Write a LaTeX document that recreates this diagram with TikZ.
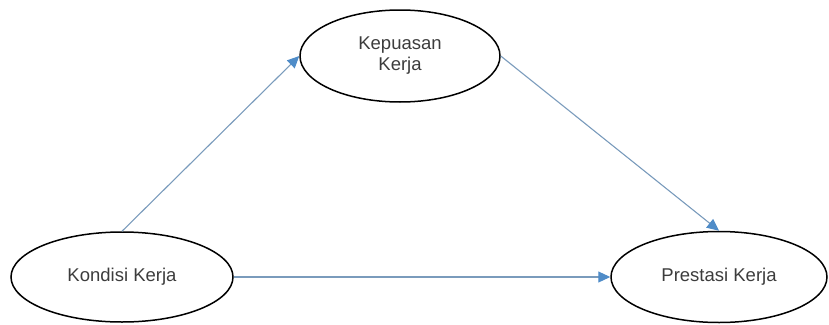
\documentclass[tikz,border=0pt]{standalone}
\usepackage{fontspec}
\setmainfont{Liberation Sans}
\usetikzlibrary{shapes.geometric,arrows.meta}
\definecolor{linec}{RGB}{122,155,188}
\definecolor{tipc}{RGB}{79,140,200}
\definecolor{txtc}{RGB}{60,60,60}
\tikzset{
  varbox/.style={ellipse, draw=black, line width=1.5pt, inner sep=0pt, text=txtc,
    font=\fontsize{18.5}{21}\selectfont, align=center},
  link/.style={draw=linec, line width=1.1pt, -{Triangle[length=12pt,width=11pt,fill=tipc,color=tipc]}}
}
\begin{document}
\begin{tikzpicture}[x=1pt,y=-1pt]
\useasboundingbox (0,0) rectangle (829,324);
\node[varbox, minimum width=200pt, minimum height=92pt] (T) at (400,56) {Kepuasan\\Kerja};
\node[varbox, minimum width=222pt, minimum height=90pt] (L) at (122,277) {Kondisi Kerja};
\node[varbox, minimum width=216pt, minimum height=91pt] (R) at (719,277) {Prestasi Kerja};
\draw[link] (L.north) -- (T.west);
\draw[link] (T.east) -- (R.north);
\draw[link] (L.east) -- (R.west);
\end{tikzpicture}
\end{document}
